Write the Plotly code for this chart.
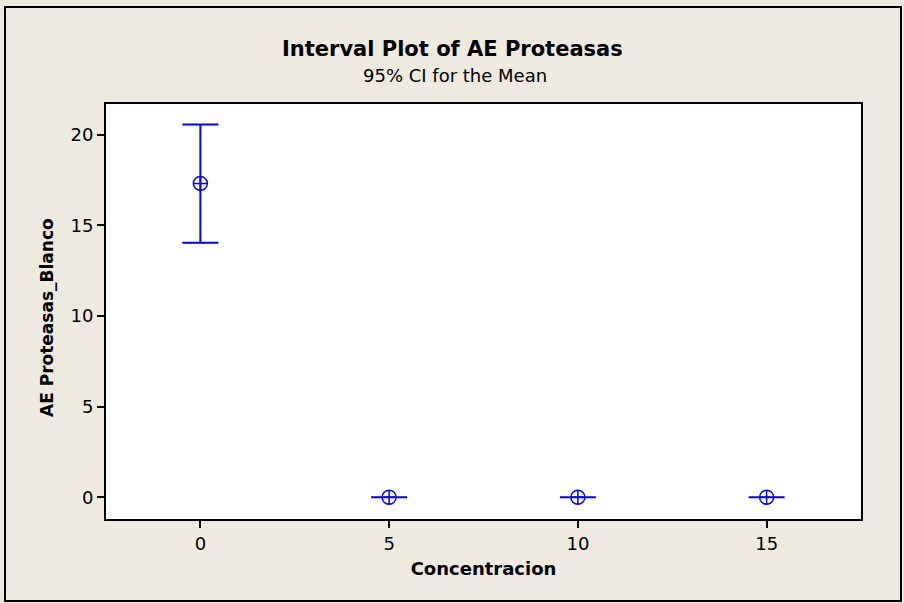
import plotly.graph_objects as go

categories = ["0", "5", "10", "15"]
means = [17.32, 0.0, 0.0, 0.0]
ci_lower = [14.05, 0.0, 0.0, 0.0]
ci_upper = [20.57, 0.0, 0.0, 0.0]
y_ticks = [0, 5, 10, 15, 20]

err_plus = [u - m for u, m in zip(ci_upper, means)]
err_minus = [m - l for m, l in zip(means, ci_lower)]

FONT = "Tahoma, Verdana, DejaVu Sans, sans-serif"
BLUE = "#0000FF"

fig = go.Figure()
fig.add_trace(go.Scatter(
    x=categories, y=means, mode="markers",
    marker=dict(symbol="circle-cross-open", size=14, color=BLUE, line=dict(width=1.5, color=BLUE)),
    error_y=dict(type="data", symmetric=False, array=err_plus, arrayminus=err_minus,
                 color=BLUE, thickness=2, width=18),
    showlegend=False, hoverinfo="skip",
))

L, R, T, B = 106, 43, 104, 84
W, H = 904, 603
pw, ph = W - L - R, H - T - B

def px2paper_x(px):
    return (px - L) / pw

def px2paper_y(py):
    return (H - B - py) / ph

fig.update_layout(
    width=W, height=H,
    margin=dict(l=L, r=R, t=T, b=B),
    paper_bgcolor="#EEEAE0",
    plot_bgcolor="white",
    font=dict(family=FONT, color="black", size=18),
    showlegend=False,
    xaxis=dict(type="category", range=[-0.5, 3.5], showgrid=False, zeroline=False,
               showline=True, linecolor="black", linewidth=2, mirror=True,
               ticks="outside", ticklen=7, tickwidth=2, tickcolor="black",
               tickfont=dict(size=18),
               title=dict(text="<b>Concentracion</b>", font=dict(size=18), standoff=10)),
    yaxis=dict(range=[-1.2, 21.7], tickvals=y_ticks, showgrid=False, zeroline=False,
               showline=True, linecolor="black", linewidth=2, mirror=True,
               ticks="outside", ticklen=7, tickwidth=2, tickcolor="black",
               tickfont=dict(size=18)),
    annotations=[
        dict(text="<b>Interval Plot of AE Proteasas</b>", x=(452 - L) / pw, y=px2paper_y(49),
             xref="paper", yref="paper", showarrow=False, font=dict(size=21), yanchor="middle"),
        dict(text="95% CI for the Mean", x=(455 - L) / pw, y=px2paper_y(75),
             xref="paper", yref="paper", showarrow=False, font=dict(size=18), yanchor="middle"),
        dict(text="<b>AE Proteasas_Blanco</b>", x=px2paper_x(47), y=px2paper_y(318),
             xref="paper", yref="paper", showarrow=False, font=dict(size=17), textangle=-90,
             xanchor="center", yanchor="middle"),
    ],
    shapes=[
        dict(type="rect", xref="paper", yref="paper",
             x0=px2paper_x(5), x1=px2paper_x(901), y0=px2paper_y(601), y1=px2paper_y(7),
             line=dict(color="black", width=2), fillcolor="rgba(0,0,0,0)", layer="below"),
    ],
)

fig.write_html("out.html")
